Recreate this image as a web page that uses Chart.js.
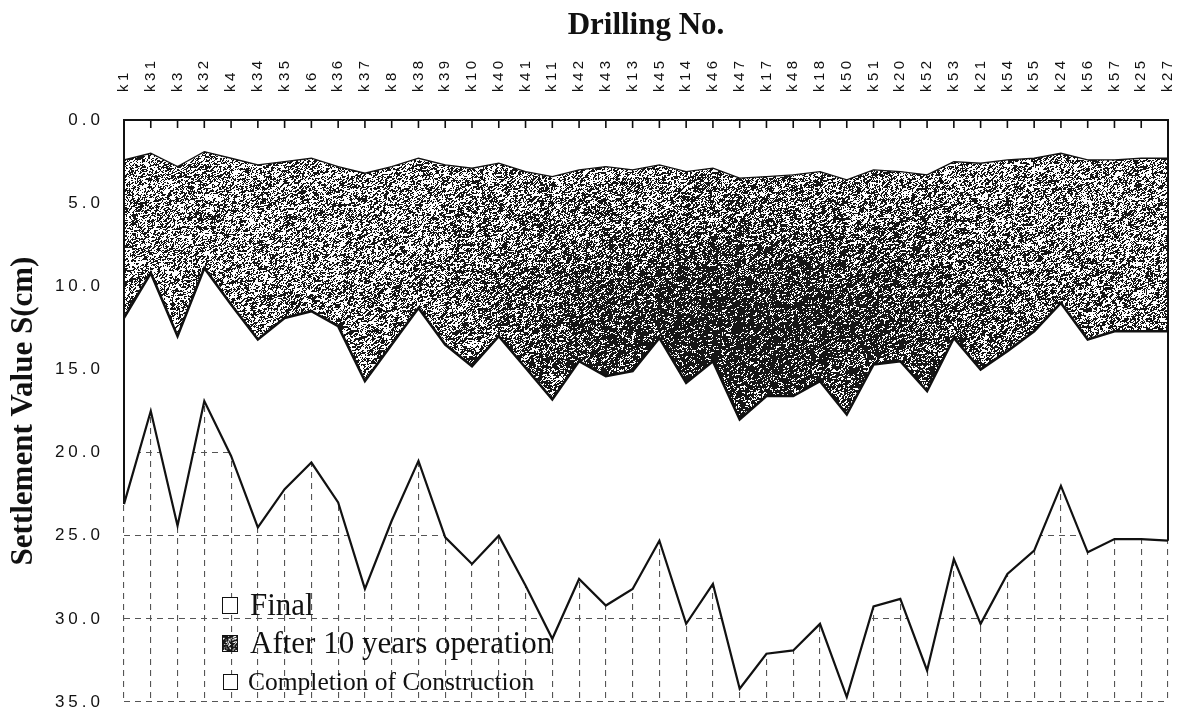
<!DOCTYPE html>
<html>
<head>
<meta charset="utf-8">
<script src="https://cdn.jsdelivr.net/npm/chart.js@4.4.1/dist/chart.umd.min.js"></script>
<style>
  html, body { margin: 0; padding: 0; background: #fff; }
  #wrap { position: relative; width: 1179px; height: 716px; overflow: hidden; }
  #chart { display: block; }
  .key { position: absolute; font-family: "Liberation Serif", "Times New Roman", serif; color: #111; white-space: nowrap; }
  .sw { position: absolute; box-sizing: border-box; border: 1.6px solid #111; background: #fff; }
</style>
</head>
<body>
<div id="wrap">
  <canvas id="chart" width="1179" height="716"></canvas>
  <div class="sw" style="left:222px;top:597px;width:16px;height:17px"></div>
  <div class="key" style="left:250px;top:586px;font-size:31px;line-height:38px">Final</div>
  <canvas id="swAfter" class="sw" width="16" height="17" style="left:222px;top:635px;width:16px;height:17px"></canvas>
  <div class="key" style="left:250px;top:624px;font-size:31px;line-height:38px">After 10 years operation</div>
  <div class="sw" style="left:223px;top:674px;width:15px;height:16px;border-width:1.3px"></div>
  <div class="key" style="left:248px;top:666px;font-size:25.5px;line-height:32px">Completion of Construction</div>
</div>
<script>
// Drilling points along the section
const drillingNo = ['k1','k31','k3','k32','k4','k34','k35','k6','k36','k37','k8','k38','k39','k10','k40',
  'k41','k11','k42','k43','k13','k45','k14','k46','k47','k17','k48','k18','k50','k51','k20',
  'k52','k53','k21','k54','k55','k24','k56','k57','k25','k27'];

// Settlement S (cm) at completion of construction
const completionOfConstruction = [2.4, 2.0, 2.8, 1.9, 2.3, 2.7, 2.5, 2.3, 2.8, 3.2, 2.8, 2.3, 2.7, 2.9, 2.6,
  3.1, 3.4, 3.0, 2.8, 3.0, 2.7, 3.1, 2.9, 3.5, 3.4, 3.3, 3.1, 3.6, 3.0, 3.1,
  3.3, 2.5, 2.6, 2.4, 2.3, 2.0, 2.4, 2.4, 2.3, 2.3];

// Settlement S (cm) after 10 years of operation
const after10Years = [11.9, 9.2, 13.0, 8.9, 11.1, 13.2, 11.9, 11.5, 12.4, 15.7, 13.5, 11.3, 13.5, 14.8, 13.0,
  14.9, 16.8, 14.5, 15.4, 15.1, 13.1, 15.8, 14.5, 18.0, 16.6, 16.6, 15.7, 17.7, 14.7, 14.5,
  16.3, 13.1, 15.0, 13.9, 12.7, 11.0, 13.2, 12.7, 12.7, 12.7];

// Final settlement S (cm)
const finalSettlement = [23.1, 17.5, 24.4, 16.9, 20.2, 24.5, 22.2, 20.6, 23.0, 28.2, 24.1, 20.5, 25.1, 26.7, 25.0,
  28.0, 31.2, 27.6, 29.2, 28.2, 25.3, 30.3, 27.9, 34.2, 32.1, 31.9, 30.3, 34.7, 29.25, 28.8,
  33.1, 26.4, 30.3, 27.3, 25.9, 22.0, 26.0, 25.2, 25.2, 25.3];

// Settlement axis ticks (cm)
const settlementTicks = [0, 5, 10, 15, 20, 25, 30, 35];

// Deterministic grain for the shaded band
function hash(x, y) {
  let h = Math.imul(x | 0, 374761393) ^ Math.imul(y | 0, 668265263);
  h = Math.imul(h ^ (h >>> 13), 1274126177);
  h ^= h >>> 16;
  return (h >>> 0) / 4294967296;
}

function paintGrain(ctx2, w, h, densityAt) {
  const img = ctx2.createImageData(w, h);
  const d = img.data;
  for (let y = 0; y < h; y++) {
    for (let x = 0; x < w; x++) {
      const p = 0.5 * hash(x, y) + 0.5 * hash((x + (y & 1)) >> 1, y >> 1);
      const dark = p < densityAt(x, y);
      const v = dark ? 22 : 255;
      const k = (y * w + x) * 4;
      d[k] = v; d[k + 1] = v; d[k + 2] = v; d[k + 3] = 255;
    }
  }
  ctx2.putImageData(img, 0, 0);
}

let grainCache = null;
function grain(chart) {
  if (!chart.chartArea || !chart.scales.x || !chart.scales.y) return '#6a6a6a';
  const key = chart.width + 'x' + chart.height;
  if (grainCache && grainCache.key === key) return grainCache.pattern;
  const xs = chart.scales.x, ys = chart.scales.y;
  // denser grain around the deepest part of the band
  const cx = xs.getPixelForValue(drillingNo.indexOf('k47'));
  const cy = ys.getPixelForValue(13);
  const rx = (xs.getPixelForValue(1) - xs.getPixelForValue(0)) * 9;
  const ry = Math.abs(ys.getPixelForValue(5) - ys.getPixelForValue(0)) * 1.3;
  const off = document.createElement('canvas');
  off.width = chart.width; off.height = chart.height;
  const c2 = off.getContext('2d');
  paintGrain(c2, off.width, off.height, (x, y) => {
    const e = ((x - cx) / rx) ** 2 + ((y - cy) / ry) ** 2;
    return 0.48 + 0.24 * Math.exp(-e);
  });
  const pattern = chart.ctx.createPattern(off, 'no-repeat');
  grainCache = { key, pattern };
  return pattern;
}

// legend swatch
(function () {
  const sw = document.getElementById('swAfter');
  paintGrain(sw.getContext('2d'), sw.width, sw.height, () => 0.62);
})();

// tracking of the tick label text on each axis
const labelTracking = { x: '3.5px', y: '4px' };

// Outline of the settlement profile, top axis line and inward tick marks
const framePlugin = {
  id: 'frame',
  beforeDraw(chart) {
    for (const id of ['x', 'y']) {
      const s = chart.scales[id];
      if (s && !s._trackedLabels) {
        const orig = s.drawLabels;
        s.drawLabels = function (area) {
          const c = this.ctx;
          c.save();
          c.letterSpacing = labelTracking[id];
          orig.call(this, area);
          c.restore();
        };
        s._trackedLabels = true;
      }
    }
  },
  afterDatasetsDraw(chart) {
    const { ctx } = chart;
    const xs = chart.scales.x, ys = chart.scales.y;
    const n = drillingNo.length;
    const x0 = xs.getPixelForValue(0), x1 = xs.getPixelForValue(n - 1);
    const yTop = ys.getPixelForValue(0);
    ctx.save();
    ctx.strokeStyle = '#111';
    ctx.lineWidth = 2;
    ctx.beginPath();
    ctx.moveTo(x0, ys.getPixelForValue(finalSettlement[0]));
    ctx.lineTo(x0, yTop);
    ctx.lineTo(x1, yTop);
    ctx.lineTo(x1, ys.getPixelForValue(finalSettlement[n - 1]));
    ctx.stroke();
    ctx.lineWidth = 1.6;
    ctx.beginPath();
    for (let i = 0; i < n; i++) {
      const px = xs.getPixelForValue(i);
      ctx.moveTo(px, yTop);
      ctx.lineTo(px, yTop + 8);
    }
    ctx.stroke();
    ctx.restore();
  }
};

const titleFont = { family: "'Liberation Serif', 'Times New Roman', serif", size: 31, weight: 'bold' };

new Chart(document.getElementById('chart'), {
  type: 'line',
  data: {
    labels: drillingNo,
    datasets: [
      {
        label: 'Completion of Construction',
        data: completionOfConstruction,
        borderColor: '#111',
        borderWidth: 1.3,
        fill: false,
        pointRadius: 0,
        tension: 0
      },
      {
        label: 'After 10 years operation',
        data: after10Years,
        borderColor: '#111',
        borderWidth: 2.6,
        backgroundColor: (c) => grain(c.chart),
        fill: { target: 0 },
        pointRadius: 0,
        tension: 0
      },
      {
        label: 'Final',
        data: finalSettlement,
        borderColor: '#111',
        borderWidth: 2.2,
        backgroundColor: '#fff',
        fill: 'origin',
        pointRadius: 0,
        tension: 0
      }
    ]
  },
  options: {
    responsive: false,
    animation: false,
    devicePixelRatio: 1,
    layout: { padding: { left: 0, right: 11, top: 0, bottom: 14 } },
    plugins: {
      legend: { display: false },
      tooltip: { enabled: false }
    },
    scales: {
      x: {
        type: 'category',
        position: 'top',
        offset: false,
        grid: { color: '#555', lineWidth: 1.1, drawTicks: false },
        border: { display: false, dash: [6, 5] },
        ticks: {
          autoSkip: false,
          minRotation: 90,
          maxRotation: 90,
          padding: 28,
          labelOffset: 18,
          color: '#111',
          font: { family: "'Liberation Sans', Arial, sans-serif", size: 15 }
        },
        title: {
          display: true,
          text: 'Drilling No.',
          color: '#111',
          font: titleFont,
          padding: { top: 7, bottom: 0 }
        },
        afterFit(scale) {
          scale.height = 120;
          scale.paddingLeft = 0;
          scale.paddingRight = 0;
        }
      },
      y: {
        type: 'linear',
        reverse: true,
        min: 0,
        max: 35,
        grid: { color: '#555', lineWidth: 1.1, drawTicks: false },
        border: { display: false, dash: [6, 5] },
        afterBuildTicks(scale) { scale.ticks = settlementTicks.map(v => ({ value: v })); },
        ticks: {
          padding: 20,
          color: '#111',
          font: { family: "'Liberation Sans', Arial, sans-serif", size: 17 },
          callback: (v) => Number(v).toFixed(1)
        },
        title: {
          display: true,
          text: 'Settlement Value S(cm)',
          color: '#111',
          font: titleFont,
          padding: { top: 5, bottom: 0 }
        },
        afterFit(scale) {
          scale.width = 124;
          scale.paddingTop = 0;
          scale.paddingBottom = 0;
        }
      }
    }
  },
  plugins: [framePlugin]
});
</script>
</body>
</html>
